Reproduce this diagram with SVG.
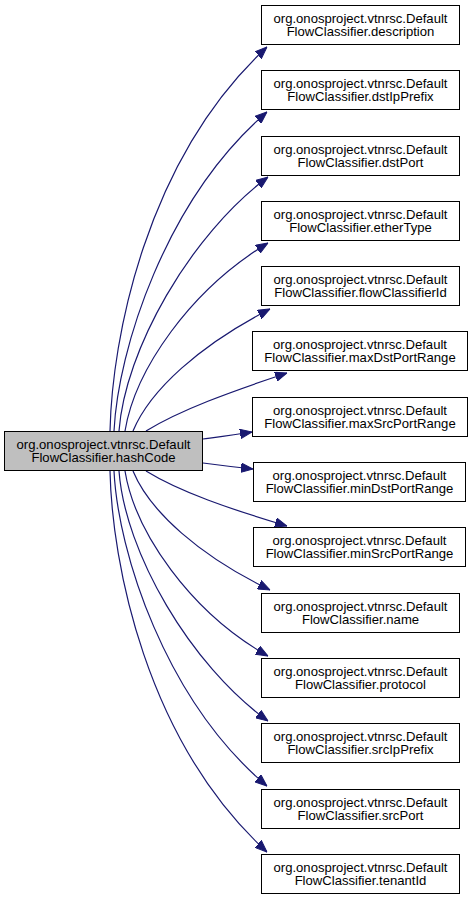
<svg xmlns="http://www.w3.org/2000/svg" width="475" height="900" viewBox="0 0 475 900">
<style>
.n rect{fill:#ffffff;stroke:#000000;stroke-width:1}
#hashCode rect{fill:#bfbfbf}
.n text{font-family:"Liberation Sans",Arial,Helvetica,sans-serif;font-size:13.1px;text-anchor:middle;fill:#000000}
.e path{fill:none;stroke:#191970;stroke-width:1.2;marker-end:url(#arr)}
</style>
<defs>
<marker id="arr" markerUnits="userSpaceOnUse" viewBox="0 0 12 10" refX="12" refY="5" markerWidth="12" markerHeight="10" orient="auto">
<polygon points="0,0.3 12,5 0,9.7" fill="#191970" stroke="#191970" stroke-width="1"/>
</marker>
</defs>
<rect width="475" height="900" fill="#ffffff"/>
<g id="connectors" class="e">
<path d="M110,431 C112,340 145,160 267,47"/>
<path d="M114,431 C118,350 165,200 267,112"/>
<path d="M119,431 C125,350 190,235 268,177"/>
<path d="M125,431 C135,370 190,290 268,243"/>
<path d="M133,431 C150,390 200,345 270,309"/>
<path d="M146,431 C180,410 230,392 287,373"/>
<path d="M203,439 C218,437 234,435 252,432"/>
<path d="M203,463 C218,465 234,467 253,469"/>
<path d="M146,471 C180,492 230,509 287,526"/>
<path d="M133,471 C150,512 200,556 270,590"/>
<path d="M125,471 C135,532 190,612 268,656"/>
<path d="M119,471 C125,552 190,665 268,721"/>
<path d="M114,471 C118,552 165,700 267,786"/>
<path d="M110,471 C112,562 145,740 267,852"/>
</g>
<g id="hashCode" class="n">
<rect x="4.5" y="431.5" width="198" height="39"/>
<text x="103.5" y="448.5">org.onosproject.vtnrsc.Default</text>
<text x="103.5" y="462">FlowClassifier.hashCode</text>
</g>
<g id="description" class="n">
<rect x="261.5" y="5.5" width="198" height="39"/>
<text x="360.5" y="22.5">org.onosproject.vtnrsc.Default</text>
<text x="360.5" y="36">FlowClassifier.description</text>
</g>
<g id="dstIpPrefix" class="n">
<rect x="261.5" y="70.5" width="198" height="39"/>
<text x="360.5" y="87.5">org.onosproject.vtnrsc.Default</text>
<text x="360.5" y="101">FlowClassifier.dstIpPrefix</text>
</g>
<g id="dstPort" class="n">
<rect x="261.5" y="136.5" width="198" height="39"/>
<text x="360.5" y="153.5">org.onosproject.vtnrsc.Default</text>
<text x="360.5" y="167">FlowClassifier.dstPort</text>
</g>
<g id="etherType" class="n">
<rect x="261.5" y="201.5" width="198" height="39"/>
<text x="360.5" y="218.5">org.onosproject.vtnrsc.Default</text>
<text x="360.5" y="232">FlowClassifier.etherType</text>
</g>
<g id="flowClassifierId" class="n">
<rect x="261.5" y="266.5" width="198" height="39"/>
<text x="360.5" y="283.5">org.onosproject.vtnrsc.Default</text>
<text x="360.5" y="297">FlowClassifier.flowClassifierId</text>
</g>
<g id="maxDstPortRange" class="n">
<rect x="252.5" y="331.5" width="215" height="39"/>
<text x="360" y="348.5">org.onosproject.vtnrsc.Default</text>
<text x="360" y="362">FlowClassifier.maxDstPortRange</text>
</g>
<g id="maxSrcPortRange" class="n">
<rect x="252.5" y="397.5" width="215" height="39"/>
<text x="360" y="414.5">org.onosproject.vtnrsc.Default</text>
<text x="360" y="428">FlowClassifier.maxSrcPortRange</text>
</g>
<g id="minDstPortRange" class="n">
<rect x="253.5" y="462.5" width="212" height="39"/>
<text x="359.5" y="479.5">org.onosproject.vtnrsc.Default</text>
<text x="359.5" y="493">FlowClassifier.minDstPortRange</text>
</g>
<g id="minSrcPortRange" class="n">
<rect x="253.5" y="527.5" width="212" height="39"/>
<text x="359.5" y="544.5">org.onosproject.vtnrsc.Default</text>
<text x="359.5" y="558">FlowClassifier.minSrcPortRange</text>
</g>
<g id="name" class="n">
<rect x="261.5" y="593.5" width="198" height="39"/>
<text x="360.5" y="610.5">org.onosproject.vtnrsc.Default</text>
<text x="360.5" y="624">FlowClassifier.name</text>
</g>
<g id="protocol" class="n">
<rect x="261.5" y="658.5" width="198" height="39"/>
<text x="360.5" y="675.5">org.onosproject.vtnrsc.Default</text>
<text x="360.5" y="689">FlowClassifier.protocol</text>
</g>
<g id="srcIpPrefix" class="n">
<rect x="261.5" y="723.5" width="198" height="39"/>
<text x="360.5" y="740.5">org.onosproject.vtnrsc.Default</text>
<text x="360.5" y="754">FlowClassifier.srcIpPrefix</text>
</g>
<g id="srcPort" class="n">
<rect x="261.5" y="789.5" width="198" height="39"/>
<text x="360.5" y="806.5">org.onosproject.vtnrsc.Default</text>
<text x="360.5" y="820">FlowClassifier.srcPort</text>
</g>
<g id="tenantId" class="n">
<rect x="261.5" y="854.5" width="198" height="39"/>
<text x="360.5" y="871.5">org.onosproject.vtnrsc.Default</text>
<text x="360.5" y="885">FlowClassifier.tenantId</text>
</g>
</svg>
